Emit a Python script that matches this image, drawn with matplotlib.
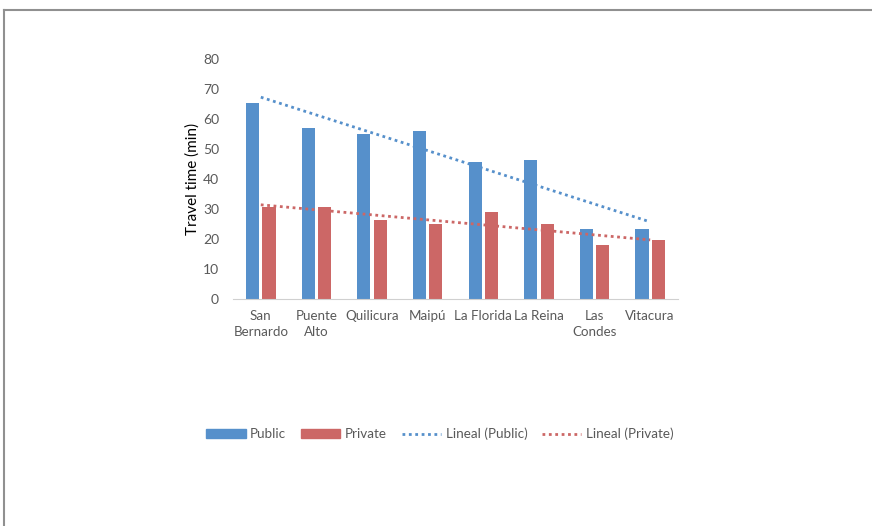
import matplotlib
matplotlib.use("Agg")
import matplotlib.pyplot as plt
import numpy as np
from matplotlib.lines import Line2D

plt.rcParams['font.family'] = ['Lato', 'DejaVu Sans']

communes = ["San\nBernardo", "Puente\nAlto", "Quilicura", "Maipú",
            "La Florida", "La Reina", "Las\nCondes", "Vitacura"]
public = [65.3, 57.0, 55.0, 56.0, 45.7, 46.3, 23.3, 23.3]
private = [30.7, 30.7, 26.3, 25.0, 29.0, 25.0, 18.0, 19.7]
yticks = [0, 10, 20, 30, 40, 50, 60, 70, 80]

blue = "#5690cb"
red = "#cc6766"
grey = "#595959"

fig = plt.figure(figsize=(8.72, 5.26), dpi=100)
ax = fig.add_axes([233 / 872, 1 - 299 / 526, 445 / 872, 240 / 526])

x = np.arange(1, len(communes) + 1)
w = 0.235
ax.bar(x - w / 2 - 0.03, public, width=w, color=blue, label="Public", zorder=2)
ax.bar(x + w / 2 + 0.03, private, width=w, color=red, label="Private", zorder=2)

# Linear trend lines fitted to each series
for vals, col, lab in [(public, blue, "Lineal (Public)"), (private, red, "Lineal (Private)")]:
    k, b = np.polyfit(x, vals, 1)
    ax.plot([x[0], x[-1]], [k * x[0] + b, k * x[-1] + b], color=col,
            linestyle=(0, (1, 1.3)), linewidth=2, label=lab, zorder=3)

ax.set_xlim(0.5, len(communes) + 0.5)
ax.set_ylim(0, 80)
ax.set_yticks(yticks)
ax.set_xticks(x)
ax.set_xticklabels(communes, fontsize=9.6, color=grey, linespacing=1.35)
ax.tick_params(axis='y', labelsize=10, colors=grey, length=0, pad=10)
ax.tick_params(axis='x', length=0, pad=8)
for s in ["top", "right", "left"]:
    ax.spines[s].set_visible(False)
ax.spines["bottom"].set_color("#d0d0d0")
ax.set_ylabel("Travel time (min)", fontsize=11, color="black", labelpad=2)

handles = [
    plt.Rectangle((0, 0), 1, 1, color=blue),
    plt.Rectangle((0, 0), 1, 1, color=red),
    Line2D([0], [0], color=blue, linestyle=(0, (1, 1.3)), linewidth=2),
    Line2D([0], [0], color=red, linestyle=(0, (1, 1.3)), linewidth=2),
]
labels = ["Public", "Private", "Lineal (Public)", "Lineal (Private)"]
leg = fig.legend(handles, labels, loc="center", bbox_to_anchor=(440 / 872, 1 - 434 / 526),
                 ncol=4, frameon=False, fontsize=9.7, handlelength=2.9, handleheight=0.6,
                 columnspacing=1.1, handletextpad=0.35)
for t in leg.get_texts():
    t.set_color(grey)

# Frame lines along the top and left edges
fig.add_artist(Line2D([4 / 872, 1], [1 - 10 / 526, 1 - 10 / 526], color="#909090",
                      linewidth=1.5, transform=fig.transFigure))
fig.add_artist(Line2D([4 / 872, 4 / 872], [0, 1 - 10 / 526], color="#909090",
                      linewidth=1.5, transform=fig.transFigure))

fig.savefig("out.png", dpi=100)
